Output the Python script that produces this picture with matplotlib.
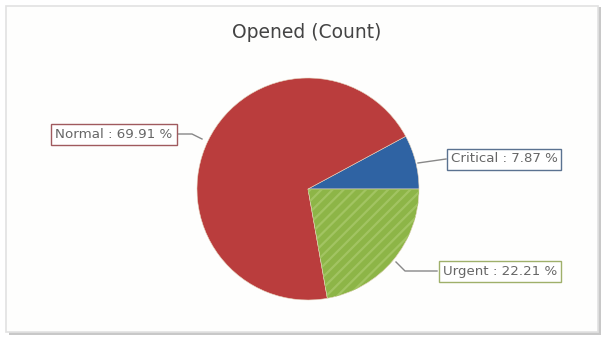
import matplotlib.pyplot as plt
from matplotlib.patches import Rectangle, Wedge

# datos del gráfico
categorias = ['Critical', 'Normal', 'Urgent']
porcentajes = [7.87, 69.91, 22.21]
colores = ['#2F63A3', '#BA3D3D', '#8DB547']
bordes_etiqueta = ['#5A7290', '#A05A5E', '#9FB06A']

fig = plt.figure(figsize=(6.05, 3.39), dpi=100)
ax = fig.add_axes([0, 0, 1, 1])
ax.set_xlim(0, 605)
ax.set_ylim(0, 339)
ax.set_aspect('equal')
ax.axis('off')

# tarjeta con sombra
ax.add_patch(Rectangle((9, 4), 592, 328, facecolor='#C8C8C8', edgecolor='none', zorder=0))
ax.add_patch(Rectangle((6, 7), 592, 326, facecolor='#FEFEFD', edgecolor='#E2E2E2', lw=1.2, zorder=1))

ax.text(307, 307, 'Opened (Count)', ha='center', va='center', fontsize=13.5, color='#444444', zorder=3)

# pastel: Critical arriba a la derecha, Urgent abajo a la derecha
cx, cy, r = 308, 150, 111
wedges, _ = ax.pie(porcentajes, colors=colores, startangle=0, counterclock=True,
                   center=(cx, cy), radius=r, frame=True,
                   wedgeprops=dict(edgecolor='#E6D6C0', linewidth=0.4, zorder=2))
ax.set_xlim(0, 605)
ax.set_ylim(0, 339)
ax.axis('off')

# rayas del sector Urgent
w = wedges[2]
plt.rcParams['hatch.linewidth'] = 1.6
rayas = Wedge((cx, cy), r, w.theta1, w.theta2, facecolor='none', edgecolor='#A2C462',
              hatch='///', lw=0, zorder=2.5)
ax.add_patch(rayas)

# etiquetas
etiquetas = [f'{c} : {p:.2f} %' for c, p in zip(categorias, porcentajes)]
posiciones = [(504, 180), (114, 205), (500, 68)]
for i, (txt, pos) in enumerate(zip(etiquetas, posiciones)):
    ax.text(pos[0], pos[1], txt, ha='center', va='center', fontsize=9.6, color='#666666', zorder=4,
            bbox=dict(boxstyle='square,pad=0.3', facecolor='white', edgecolor=bordes_etiqueta[i], lw=1))

# líneas de conexión
ax.plot([418, 446], [176, 180], color='#888888', lw=1, zorder=3)
ax.plot([177, 192, 202], [205, 205, 200], color='#888888', lw=1, zorder=3)
ax.plot([396, 405, 437], [77, 68, 68], color='#888888', lw=1, zorder=3)

fig.savefig('out.png', dpi=100)
